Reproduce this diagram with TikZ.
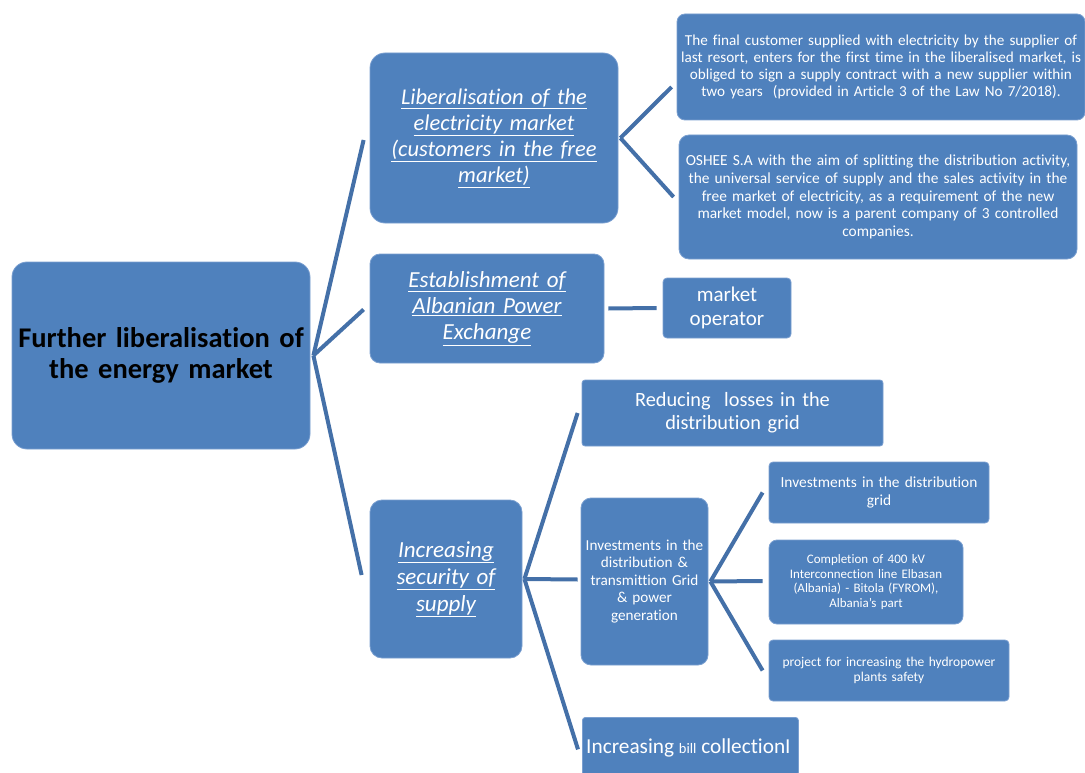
\documentclass[tikz,border=0pt]{standalone}
\usepackage{fontspec}
\setmainfont{Carlito}[Ligatures=NoCommon]
\usetikzlibrary{calc}
\definecolor{boxfill}{HTML}{4F81BD}
\definecolor{boxline}{HTML}{7A9FD0}
\definecolor{conn}{HTML}{4470A8}
\tikzset{
  box/.style={draw=boxline, line width=0.8pt, fill=boxfill, text=white, align=center, inner sep=1pt},
  link/.style={draw=conn, line width=4pt},
}
\newcommand{\fs}[2]{\fontsize{#1}{#2}\selectfont}
\newcommand{\ul}[1]{\underline{#1}}
\begin{document}
\begin{tikzpicture}[x=1pt,y=-1pt]
\useasboundingbox (0,0) rectangle (1085,773);
% root
\node[box, text=black, rounded corners=15pt, minimum width=298pt, minimum height=187pt, text width=296pt, font=\fs{28.5}{31}\bfseries] (root) at (161,355.5) {Further liberalisation of\\the energy market};
% level 1
\node[box, rounded corners=15pt, minimum width=248pt, minimum height=170pt, text width=244pt, font=\fs{22.5}{26}\itshape] (lib) at (494,138) {\ul{Liberalisation of the}\\\ul{electricity market}\\\ul{(customers in the free}\\\ul{market)}\\[18pt]};
\node[box, rounded corners=10pt, minimum width=234pt, minimum height=109pt, text width=230pt, font=\fs{23}{26}\itshape] (est) at (487,308.5) {\ul{Establishment of}\\\ul{Albanian Power}\\\ul{Exchange}};
\node[box, rounded corners=12pt, minimum width=152pt, minimum height=158pt, text width=148pt, font=\fs{23}{27}\itshape] (inc) at (446,579) {\ul{Increasing}\\\ul{security of}\\\ul{supply}\\[14pt]};
% level 2 (liberalisation)
\node[box, rounded corners=8pt, minimum width=408pt, minimum height=106pt, text width=406pt, font=\fs{15.2}{17}] (final) at (881,67) {The final customer supplied with electricity by the supplier of\\last resort, enters for the first time in the liberalised market, is\\obliged to sign a supply contract with a new supplier within\\two years\ \ (provided in Article 3 of the Law No 7/2018).};
\node[box, rounded corners=10pt, minimum width=398pt, minimum height=124pt, text width=394pt, font=\fs{15.4}{17.8}] (oshee) at (878,197) {OSHEE S.A with the aim of splitting the distribution activity,\\the universal service of supply and the sales activity in the\\free market of electricity, as a requirement of the new\\market model, now is a parent company of 3 controlled\\companies.};
% level 2 (exchange)
\node[box, rounded corners=4pt, minimum width=128pt, minimum height=60pt, text width=124pt, font=\fs{21}{24}] (mop) at (727,308) {market\\operator};
% level 2 (security)
\node[box, rounded corners=3pt, minimum width=301pt, minimum height=66pt, text width=297pt, font=\fs{20.3}{23}] (red) at (732.5,413) {Reducing\ \ losses in the\\distribution grid\\[6pt]};
\node[box, rounded corners=10pt, minimum width=127pt, minimum height=167pt, text width=125pt, font=\fs{15.2}{17.5}] (inv) at (644.5,581.5) {Investments in the\\distribution \&\\transmittion Grid\\\& power\\generation\\[30pt]};
\node[box, rounded corners=3pt, minimum width=216pt, minimum height=58pt, anchor=north west, text width=212pt] (bill) at (582,717) {};
\node[text=white, anchor=west, inner sep=1pt, font=\fs{21.3}{23}] (billtxt) at (585,748) {Increasing {\fs{14.5}{15}bill} collectionI};
% level 3
\node[box, rounded corners=4pt, minimum width=220pt, minimum height=61pt, text width=216pt, font=\fs{15.4}{18}] (idg) at (879,492.5) {Investments in the distribution\\grid\\[8pt]};
\node[box, rounded corners=8pt, minimum width=194pt, minimum height=84pt, text width=190pt, font=\fs{13}{14.7}] (comp) at (866,582) {Completion of 400 kV\\Interconnection line Elbasan\\(Albania) - Bitola (FYROM),\\Albania’s part\\[6pt]};
\node[box, rounded corners=4pt, minimum width=240pt, minimum height=61pt, text width=236pt, font=\fs{13.5}{15}] (proj) at (889,670.5) {project for increasing the hydropower\\plants safety\\[4pt]};
% connectors
\draw[link] ([xshift=3pt]root.east) -- ($(lib.west)+(-6,2)$);
\draw[link] ([xshift=3pt]root.east) -- ($(est.west)+(-6,1)$);
\draw[link] ([xshift=3pt]root.east) -- ($(inc.west)+(-8,-4)$);
\draw[link] ([xshift=2pt]lib.east) -- ($(final.west)+(-5,20)$);
\draw[link] ([xshift=2pt]lib.east) -- ($(oshee.west)+(-5,0)$);
\draw[link] ([xshift=4pt]est.east) -- ($(mop.west)+(-6,0)$);
\draw[link] ([xshift=2pt]inc.east) -- ($(red.west)+(-4,0)$);
\draw[link] ([xshift=2pt]inc.east) -- ($(inv.west)+(-3,-2)$);
\draw[link] ([xshift=2pt]inc.east) -- ($(bill.west)+(-4,3)$);
\draw[link] ([xshift=2pt]inv.east) -- ($(idg.west)+(-6,0)$);
\draw[link] ([xshift=2pt]inv.east) -- ($(comp.west)+(-6,-1)$);
\draw[link] ([xshift=2pt]inv.east) -- ($(proj.west)+(-6,0)$);
\end{tikzpicture}
\end{document}
